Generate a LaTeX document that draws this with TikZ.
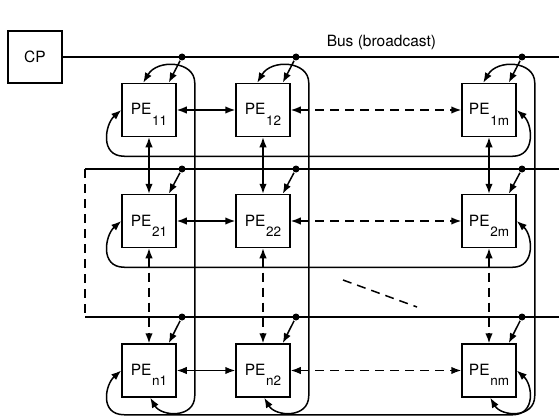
\documentclass[tikz,border=0pt]{standalone}
\usepackage{fontspec}
\setmainfont{TeX Gyre Heros}
\usetikzlibrary{arrows.meta,calc}
\newcommand\pelabel[1]{PE\kern0.6pt\raisebox{-10pt}{\fontsize{13.5}{13.5}\selectfont #1}}
\begin{document}
\begin{tikzpicture}[x=1pt,y=-1pt,line width=1.5pt,
  pebox/.style={draw,minimum width=54pt,minimum height=53pt,inner sep=0pt,
    font=\fontsize{15.5}{15.5}\selectfont,text height=15pt,text depth=5pt},
  tip/.style={-{Latex[length=10pt,width=7.5pt]}},
  dtip/.style={{Latex[length=10pt,width=7.5pt]}-{Latex[length=10pt,width=7.5pt]}},
  busdot/.style={circle,fill,inner sep=0pt,minimum size=7pt},
  dsh/.style={dash pattern=on 9pt off 6pt}]
\useasboundingbox (0,0) rectangle (559,417);

% control processor and label
\node[draw,minimum width=54pt,minimum height=52pt,inner sep=0pt,
  font=\fontsize{15.5}{15.5}\selectfont] (cp) at (35,57) {CP};
\node[anchor=base west,inner sep=0pt,font=\fontsize{15.5}{15.5}\selectfont]
  (buslbl) at (326,47) {Bus (broadcast)};

% processing elements
\node[pebox] (p11) at (149,110) {\pelabel{11}};
\node[pebox] (p12) at (263,110) {\pelabel{12}};
\node[pebox] (p1m) at (489,110) {\pelabel{1m}};
\node[pebox] (p21) at (149,221) {\pelabel{21}};
\node[pebox] (p22) at (263,221) {\pelabel{22}};
\node[pebox] (p2m) at (489,221) {\pelabel{2m}};
\node[pebox] (pn1) at (149,370.5) {\pelabel{n1}};
\node[pebox] (pn2) at (263,370.5) {\pelabel{n2}};
\node[pebox] (pnm) at (489,370.5) {\pelabel{nm}};

% bus lines
\coordinate (b1e) at (559,57);
\coordinate (b2e) at (559,169);
\coordinate (b2w) at (85,169);
\coordinate (b3w) at (85,317);
\coordinate (b3e) at (559,317);
\draw (cp.east) -- (b1e);
\draw (b2e) -- (b2w);
\draw[dsh] (b2w) -- (b3w);
\draw (b3w) -- (b3e);

% bus taps
\foreach \rw/\Y in {1/57,2/169,n/317}{
  \foreach \c/\X in {1/182,2/296,m/522}{
    \node[busdot] (d\rw\c) at (\X,\Y) {};
    \draw[tip] (d\rw\c) -- ($(p\rw\c.north east)+(-8,0)$);
  }
}

% mesh links
\foreach \rw in {1,2,n}{
  \draw[dtip] (p\rw1.east) -- (p\rw2.west);
  \draw[dtip,dsh] (p\rw2.east) -- (p\rw m.west);
}
\foreach \c in {1,2,m}{
  \draw[dtip] (p1\c.south) -- (p2\c.north);
  \draw[dtip,dsh] (p2\c.south) -- (pn\c.north);
}

% column wrap-around
\foreach \c in {1,2,m}{
  \draw[dtip] ($(p1\c.north west)+(22,0)$)
    .. controls ($(p1\c.north west)+(36,-24)$) and ($(p1\c.north east)+(18,-22)$)
    .. ($(p1\c.north east)+(18,0)$)
    -- ($(pn\c.south east)+(18,-2)$)
    .. controls ($(pn\c.south east)+(18,21)$) and ($(pn\c.south west)+(40,19)$)
    .. ($(pn\c.south west)+(29,0)$);
}

% row wrap-around
\foreach \rw/\D in {1/19,2/19,n/17}{
  \draw[dtip] (p\rw1.west)
    .. controls ($(p\rw1.west)+(-16,14)$) and ($(p\rw1.south west)+(-22,\D)$)
    .. ($(p\rw1.south west)+(3,\D)$)
    -- ($(p\rw m.south east)+(-4,\D)$)
    .. controls ($(p\rw m.south east)+(19,\D)$) and ($(p\rw m.east)+(16,14)$)
    .. (p\rw m.east);
}

% ellipsis
\coordinate (e1) at (343,280);
\coordinate (e2) at (417,307);
\draw[dsh] (e1) -- (e2);
\end{tikzpicture}
\end{document}
